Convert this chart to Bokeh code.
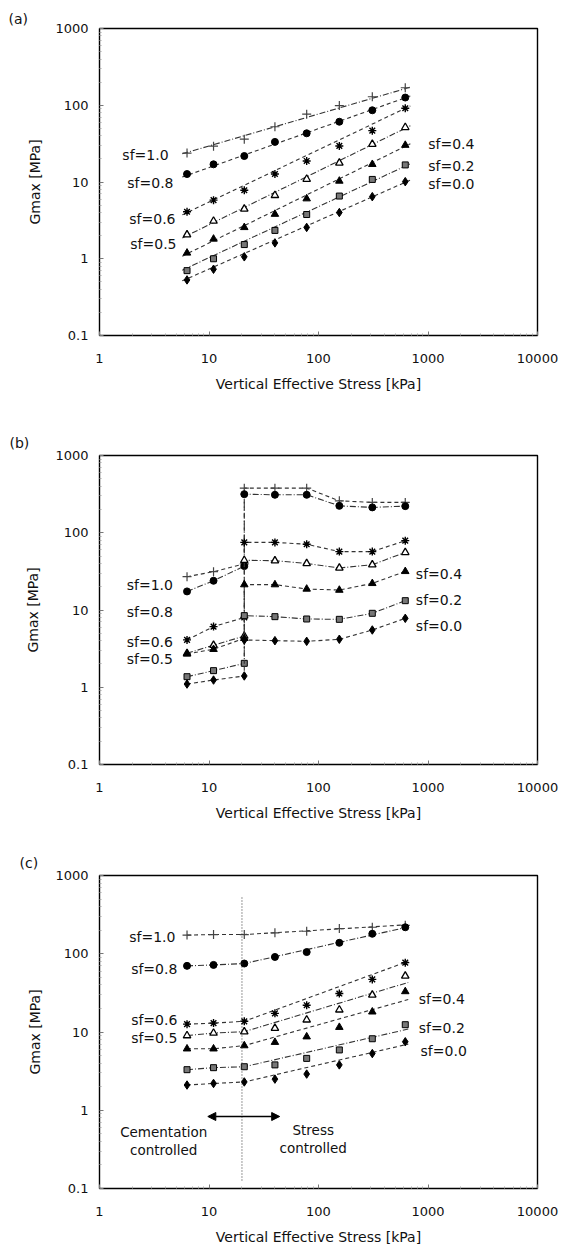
import math
from bokeh.plotting import figure
from bokeh.layouts import column
from bokeh.models import (Range1d, FixedTicker, CustomJSTickFormatter, Label,
                          Arrow, NormalHead)
from bokeh.embed import file_html
from bokeh.resources import INLINE

FONT = "DejaVu Sans"
PAGE_W = 568

# ---------------------------------------------------------------- data
series = ["sf=1.0", "sf=0.8", "sf=0.6", "sf=0.5", "sf=0.4", "sf=0.2", "sf=0.0"]

# ----- panel (a)
a_stress = [6.3, 11, 21, 40, 78, 155, 310, 620]
a_sf10 = [23.8, 29.3, 36.1, 52.5, 76.5, 99, 129, 169]
a_sf08 = [12.7, 17.0, 21.8, 33.3, 43.1, 61, 86, 126]
a_sf06 = [4.1, 5.8, 7.8, 12.7, 18.8, 29.5, 46.7, 91.5]
a_sf05 = [2.06, 3.1, 4.46, 6.7, 10.9, 17.7, 31.1, 51.5]
a_sf04 = [1.19, 1.81, 2.56, 3.81, 6.06, 10.3, 17.0, 30.2]
a_sf02 = [0.70, 1.0, 1.53, 2.34, 3.77, 6.56, 10.8, 16.7]
a_sf00 = [0.53, 0.73, 1.06, 1.61, 2.56, 4.0, 6.44, 10.1]
# trend lines (end points)
a_trend_stress = [5.7, 690]
a_trend_sf10 = [23.3, 172]
a_trend_sf08 = [11.6, 132]
a_trend_sf06 = [3.73, 98]
a_trend_sf05 = [1.87, 54]
a_trend_sf04 = [1.08, 31.4]
a_trend_sf02 = [0.71, 17.3]
a_trend_sf00 = [0.515, 10.6]

# ----- panel (b)  (jump at 21 kPa)
b_stress_pre = [6.3, 11, 21]
b_stress_post = [21, 40, 78, 155, 310, 620]
b_pre_sf10 = [27, 31.3, 39.5]
b_pre_sf08 = [17.4, 23.9, 37]
b_pre_sf06 = [4.1, 6.1, 8.0]
b_pre_sf05 = [2.75, 3.5, 4.6]
b_pre_sf04 = [2.7, 3.1, 4.3]
b_pre_sf02 = [1.37, 1.64, 2.04]
b_pre_sf00 = [1.1, 1.24, 1.4]
b_post_sf10 = [378, 378, 378, 259, 247, 247]
b_post_sf08 = [316, 310, 310, 223, 213, 221]
b_post_sf06 = [75, 75, 71, 57, 57, 79]
b_post_sf05 = [44, 43.5, 40, 35, 38.6, 55.7]
b_post_sf04 = [21.3, 21.3, 18.7, 18.1, 22.1, 31.6]
b_post_sf02 = [8.45, 8.2, 7.65, 7.57, 9.06, 13.2]
b_post_sf00 = [4.09, 4.01, 3.93, 4.18, 5.51, 7.8]

# ----- panel (c)
c_stress = [6.3, 11, 21, 40, 78, 155, 310, 620]
c_sf10 = [173, 176, 176, 185, 194, 210, 218, 231]
c_sf08 = [70, 72, 75, 91, 105, 138, 180, 218]
c_sf06 = [12.6, 13.0, 13.7, 17.3, 22, 31, 47, 77]
c_sf05 = [9.0, 9.7, 10.1, 11.2, 14.3, 19.2, 29.8, 52]
c_sf04 = [6.1, 6.1, 6.7, 7.4, 8.7, 11.5, 18.1, 32.9]
c_sf02 = [3.3, 3.5, 3.6, 3.8, 4.6, 5.9, 8.2, 12.4]
c_sf00 = [2.1, 2.2, 2.3, 2.5, 2.9, 3.8, 5.3, 7.5]
# fitted line: through first three points, then straight to an end point
c_fit_end_stress = 660
c_fit_end = [235, 220, 80, 43, 26, 10.9, 7.0]
c_boundary_stress = 20

x_ticks = [1, 10, 100, 1000, 10000]
y_ticks = [0.1, 1, 10, 100, 1000]

# ---------------------------------------------------------------- styles
MK = [
    dict(marker="cross", size=9, line_color="#444", fill_color=None, line_width=1.2),
    dict(marker="circle", size=7, line_color="black", fill_color="black"),
    dict(marker="asterisk", size=8, line_color="black", line_width=1.4),
    dict(marker="triangle", size=7.5, line_color="black", fill_color="white", line_width=1.3),
    dict(marker="triangle", size=7.5, line_color="black", fill_color="black"),
    dict(marker="square", size=6, line_color="black", fill_color="#777777", line_width=1),
    dict(marker="diamond", size=8.5, line_color="black", fill_color="black"),
]
DASH = {"d": "4 3", "dd": "6 2 1 2"}
a_dash = ["dd", "d", "d", "dd", "d", "dd", "d"]
bc_dash = ["d", "dd", "d", "dd", "d", "dd", "d"]

# frame geometry in page pixels: (left, right, top, bottom)
GA = (99, 540, 28, 335)
GB = (95, 545, 455, 764)
GC = (80, 537, 875, 1188)


def px2d(g, px, py):
    fx0, fx1, fy0, fy1 = g
    lx = (px - fx0) / (fx1 - fx0) * 4.0
    ly = 3.0 - (py - fy0) / (fy1 - fy0) * 4.0
    return 10 ** lx, 10 ** ly


def make_panel(g, top, height, letter, letter_x, letter_standoff, ylab_standoff):
    fx0, fx1, fy0, fy1 = g
    bl = fx0
    fw = fx1 - fx0
    br = PAGE_W - bl - fw
    bt = fy0 - top
    fh = fy1 - fy0
    bb = height - bt - fh
    p = figure(width=PAGE_W, height=height, x_axis_type="log", y_axis_type="log",
               x_range=Range1d(1, 10000), y_range=Range1d(0.1, 1000),
               output_backend="svg", toolbar_location=None,
               min_border_left=bl, min_border_right=br,
               min_border_top=bt, min_border_bottom=bb)
    p.outline_line_color = "black"
    p.outline_line_width = 1.4
    p.outline_line_alpha = 1.0
    p.grid.visible = False
    p.background_fill_color = "white"
    p.border_fill_color = "white"
    xminor = [m * 10 ** k for k in range(0, 4) for m in range(2, 10)]
    yminor = [m * 10 ** k for k in range(-1, 3) for m in range(2, 10)]
    p.xaxis.ticker = FixedTicker(ticks=x_ticks, minor_ticks=xminor)
    p.yaxis.ticker = FixedTicker(ticks=y_ticks, minor_ticks=yminor)
    for ax in (p.xaxis[0], p.yaxis[0]):
        ax.axis_line_color = None
        ax.major_tick_in = 4
        ax.major_tick_out = 0
        ax.minor_tick_in = 2
        ax.minor_tick_out = 0
        ax.major_tick_line_color = "#777777"
        ax.minor_tick_line_color = "#aaaaaa"
        ax.major_label_text_font = FONT
        ax.major_label_text_font_size = "13px"
        ax.major_label_text_color = "#111111"
        ax.formatter = CustomJSTickFormatter(code="return String(tick);")
        ax.axis_label_text_font = FONT
        ax.axis_label_text_font_size = "14px"
        ax.axis_label_text_font_style = "normal"
        ax.axis_label_text_color = "#111111"
    p.xaxis.major_label_standoff = 18
    p.yaxis.major_label_standoff = 11
    p.xaxis.axis_label = "Vertical Effective Stress [kPa]"
    p.xaxis.axis_label_standoff = 10
    p.yaxis.axis_label = "Gmax [MPa]"
    p.yaxis.axis_label_standoff = ylab_standoff
    # panel letter as the plot title
    p.title.text = letter
    p.title.align = "left"
    p.title.offset = letter_x - fx0
    p.title.text_font = FONT
    p.title.text_font_size = "14px"
    p.title.text_font_style = "normal"
    p.title.text_color = "#111111"
    p.title.standoff = letter_standoff
    return p


def txt(p, g, s, px, py, size="14px", align="left"):
    x, y = px2d(g, px, py)
    p.add_layout(Label(x=x, y=y, text=s, text_font=FONT, text_font_size=size,
                       text_color="#111111", text_align=align,
                       text_baseline="middle"))


def draw_markers(p, xs, ys, i):
    p.scatter(xs, ys, **MK[i])


# ---------------------------------------------------------------- panel (a)
pa = make_panel(GA, 0, 410, "(a)", 8, 4, 9)
a_vals = [a_sf10, a_sf08, a_sf06, a_sf05, a_sf04, a_sf02, a_sf00]
a_trend = [a_trend_sf10, a_trend_sf08, a_trend_sf06, a_trend_sf05,
           a_trend_sf04, a_trend_sf02, a_trend_sf00]
for i in range(7):
    pa.line(a_trend_stress, a_trend[i], line_color="#333333", line_width=1.1,
            line_dash=DASH[a_dash[i]])
    draw_markers(pa, a_stress, a_vals[i], i)
a_lab = [(122, 154), (127, 182), (129, 218), (130, 243), (430, 143), (430, 165), (430, 183)]
for s, (lx, ly) in zip(series, a_lab):
    txt(pa, GA, s, lx, ly)

# ---------------------------------------------------------------- panel (b)
pb = make_panel(GB, 410, 420, "(b)", 5, 10, 11)
b_pre = [b_pre_sf10, b_pre_sf08, b_pre_sf06, b_pre_sf05, b_pre_sf04, b_pre_sf02, b_pre_sf00]
b_post = [b_post_sf10, b_post_sf08, b_post_sf06, b_post_sf05, b_post_sf04, b_post_sf02, b_post_sf00]
for i in range(7):
    xs = b_stress_pre + b_stress_post
    ys = b_pre[i] + b_post[i]
    pb.line(xs, ys, line_color="#333333", line_width=1.1, line_dash=DASH[bc_dash[i]])
    draw_markers(pb, xs, ys, i)
b_lab = [(123, 584), (123, 611), (123, 641), (123, 658), (420, 573), (420, 599), (420, 625)]
for s, (lx, ly) in zip(series, b_lab):
    txt(pb, GB, s, lx, ly)

# ---------------------------------------------------------------- panel (c)
pc = make_panel(GC, 830, 428, "(c)", 0, 9, 9)
c_vals = [c_sf10, c_sf08, c_sf06, c_sf05, c_sf04, c_sf02, c_sf00]
for i in range(7):
    lx = c_stress[:3] + [c_fit_end_stress]
    ly = c_vals[i][:3] + [c_fit_end[i]]
    pc.line(lx, ly, line_color="#333333", line_width=1.1, line_dash=DASH[bc_dash[i]])
    draw_markers(pc, c_stress, c_vals[i], i)
c_lab = [(111, 936), (113, 968), (113, 1019), (113, 1037), (413, 998), (413, 1027), (415, 1050)]
for s, (lx, ly) in zip(series, c_lab):
    txt(pc, GC, s, lx, ly)
# boundary line
_, vy_top = px2d(GC, 229, 895)
_, vy_bot = px2d(GC, 229, 1180)
pc.segment(x0=[c_boundary_stress], y0=[vy_bot], x1=[c_boundary_stress], y1=[vy_top],
           line_color="#333333", line_width=1, line_dash="1 2")
# double arrow
axs, ays = px2d(GC, 193, 1116)
axe, aye = px2d(GC, 268, 1116)
pc.add_layout(Arrow(start=NormalHead(size=8, fill_color="black", line_color="black"),
                    end=NormalHead(size=8, fill_color="black", line_color="black"),
                    x_start=axs, y_start=ays, x_end=axe, y_end=aye,
                    line_color="black", line_width=1.6))
txt(pc, GC, "Cementation", 147, 1131, "13.5px", align="center")
txt(pc, GC, "controlled", 147, 1149, "13.5px", align="center")
txt(pc, GC, "Stress", 303, 1129, "13.5px", align="center")
txt(pc, GC, "controlled", 303, 1147, "13.5px", align="center")

layout = column(pa, pb, pc)
open("out.html", "w").write(file_html(layout, INLINE))
